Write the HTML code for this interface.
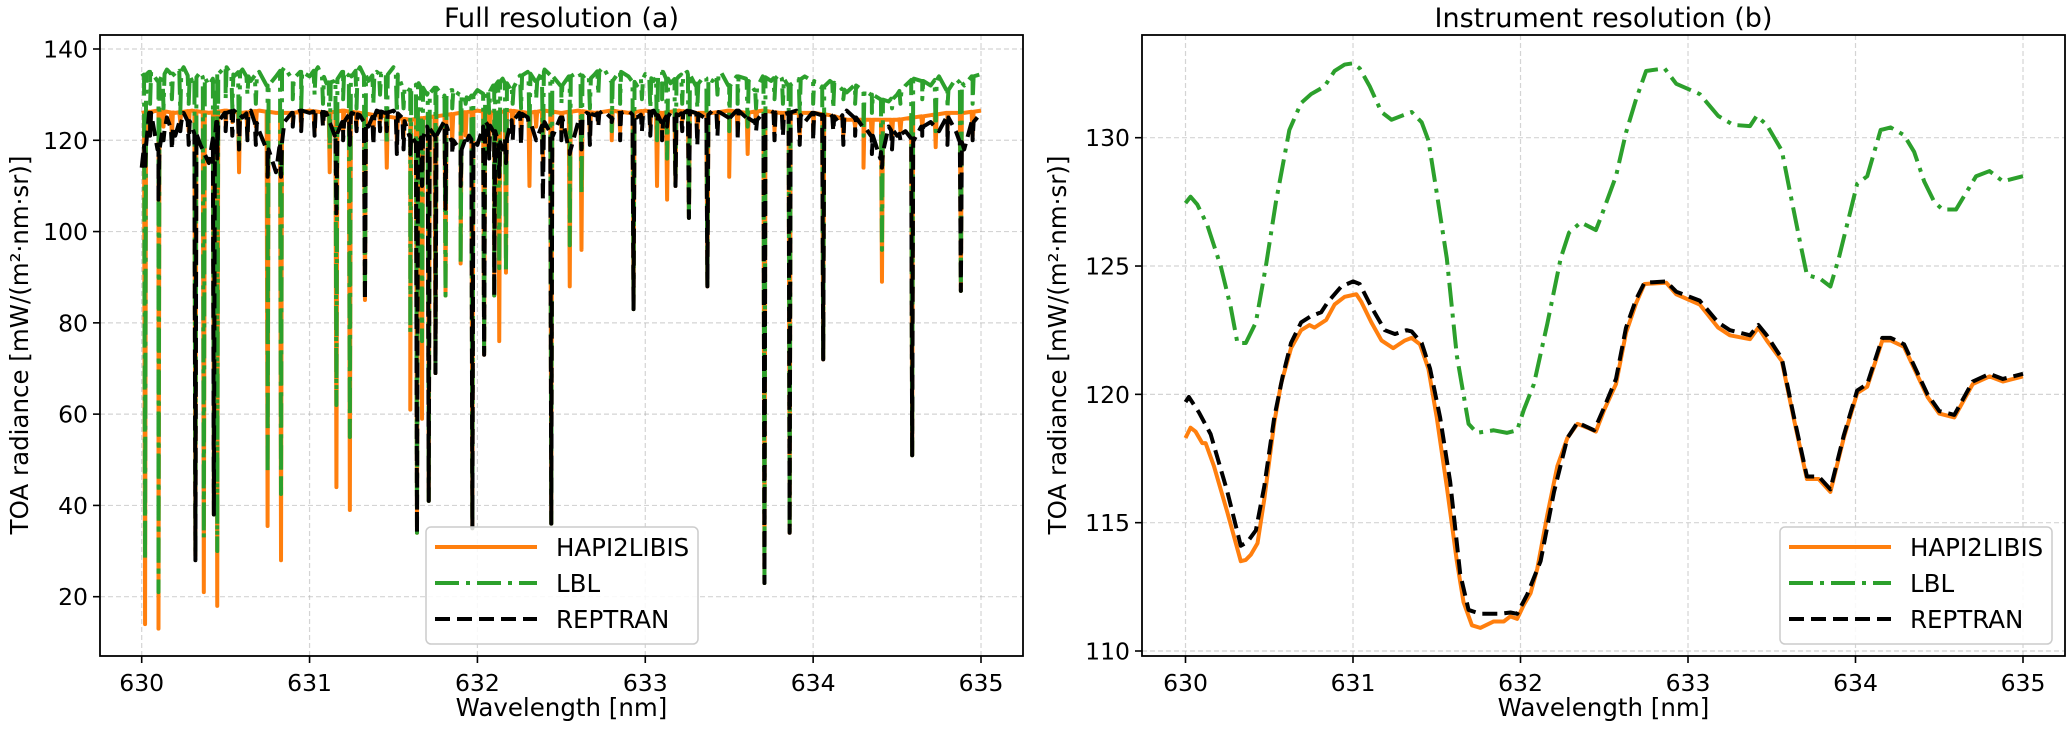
<!DOCTYPE html>
<html><head><meta charset="utf-8"><style>
body{margin:0;background:#fff}
svg text{font-family:"DejaVu Sans","Liberation Sans",sans-serif;fill:#000}
</style></head><body>
<svg id="fig" width="2067" height="729" viewBox="0 0 2067 729" xmlns="http://www.w3.org/2000/svg">
<defs>
<clipPath id="clipL"><rect x="100" y="35" width="923" height="621"/></clipPath>
<clipPath id="clipR"><rect x="1142" y="35" width="923" height="621"/></clipPath>
</defs>
<g id="panelL"></g>
<g id="panelR"></g>
</svg>
<script>
// ---- Left panel data (full resolution) ----
const baseStep = 0.05;
const lblBaseL = [134,135,133,135.5,134,136,133,135,132,134.5,136,134,135.5,133,135,132,134,136,133.5,135,
134,136,132.5,133,135,134,136,133,135,134,136,132,131,132.5,130,131.5,129.5,131,130,129,
131,130,132,133.5,131,134,135,133,135.5,134,132,134,135,133,134.5,136,133,135,134,132,
134.5,133,135,132.5,134,135,132,134,133,135,132,134,133.5,131,134,133,134.5,132,133,134,
133,131.5,133,132,130.5,132,131,130,129,128.5,130,132,133.5,133,132,134,131,133.5,132,134,134.5];
const reptranBaseL = [114,126,118,125,121,126,123,119,115,124,126,126.5,125,126.5,122,118,113,124,126,126.5,
126,126.5,126,121,124,126,125.5,123,126.5,126,126.5,125,121,119,123,121,124,120,118,121,
119,124,122,118,124,126,125,120,124,121,125,118,124,126,125.5,126.5,125,126,126.5,125,
126,126.5,124,126,125.5,126.5,126,125,126.5,126,125,126.5,125,124,126,126.5,125.5,126,126.5,124,
126,125.5,126,124,126.5,125,123,121,116,123,121,122,120,123,124,122,125,122,118,124,126];
const hapiBaseStep = 0.1;
const hapiBaseL = [126,126.5,126,126.5,126,126.5,126,126.5,126,126,126.5,126,126.5,126,125.5,125,124.5,125,125.5,126,
126.5,126,126.5,126,126.5,126,126.5,126,126.5,126,126.5,126,126.5,126,126,126.5,126,126.5,126,126,
126,125.5,124.5,124.5,124.5,124.5,125,125.5,126,126,126.5];
const lineNm = [630.02,630.10,630.32,630.37,630.43,630.45,630.58,630.75,630.83,631.12,631.16,631.24,631.33,631.46,631.60,631.64,631.67,631.71,631.75,631.81,631.90,631.97,632.04,632.10,632.13,632.17,632.31,632.39,632.44,632.55,632.62,632.80,632.93,633.07,633.13,633.18,633.26,633.37,633.50,633.61,633.71,633.86,634.06,634.30,634.41,634.59,634.73,634.88];
const hapiMin = [14,13,29,21,38,18,113,35.5,28,113,44,39,85,114,61,34,59,41,69,86,93,35,73,86,76,91,110,115,36,88,96,120,83,110,107,110,103,88,112,117,23,34,72,114,89,51,118.5,87];
const lblMin = [28,21,30,33,38,30,118,47,42.5,118,62,55,85,119,78,34,76,41,69,86,93,35,73,86,92,91,122,118,36,97,108,122,83,120,116,110,103,88,122,123,23,34,72,121,96,51,122,87];
const reptranMin = [114,107,28,118,38,116,118,112,112,125,104,119,85,122,117,34,110,41,69,105,110,35,73,86,112,115,124,107,36,117,118,124,83,124,123,110,103,88,124,124,23,34,72,123,114,51,123,87];
// weak lines (texture)
const weakNm = [630.05,630.13,630.18,630.23,630.28,630.50,630.54,630.63,630.68,630.90,630.95,631.03,631.08,631.20,631.28,631.38,631.42,631.52,631.56,631.85,631.93,632.07,632.21,632.26,632.35,632.50,632.67,632.72,632.85,632.98,633.03,633.10,633.22,633.31,633.43,633.55,633.66,633.77,633.82,633.92,634.00,634.12,634.18,634.25,634.35,634.47,634.52,634.65,634.80,634.95];
const weakLbl = [128,127,129,126,128,129,127,130,128,129,127,130,128,129,127,128,130,126,127,127,128,126,128,127,129,128,127,130,128,129,127,129,128,127,130,128,127,129,128,126,128,127,129,128,126,127,128,129,127,128];
const weakHapi = [122,123,121,124,122,123,124,121,123,124,123,122,124,122,123,121,124,120,121,120,121,119,122,121,123,122,121,124,122,124,123,122,124,121,123,122,124,122,123,121,122,124,121,123,120,121,122,123,122,121];
const weakReptran = [121,120,118,122,119,122,121,120,119,123,122,121,123,120,122,119,122,117,118,117,119,116,120,119,121,120,119,123,120,122,121,120,122,119,121,120,122,120,121,119,120,122,119,121,117,118,120,121,119,120];
const yTicksL = [20,40,60,80,100,120,140];
const xTicks = [630,631,632,633,634,635];

// ---- Right panel data (instrument resolution) ----
const lblXR = [630.0,630.03,630.07,630.13,630.21,630.27,630.31,630.36,630.42,630.48,630.54,630.62,630.69,630.75,630.83,630.89,630.95,631.0,631.04,631.1,631.17,631.23,631.31,631.35,631.41,631.45,631.5,631.56,631.62,631.69,631.74,631.84,631.92,631.98,632.02,632.08,632.16,632.24,632.29,632.36,632.45,632.48,632.57,632.63,632.69,632.75,632.86,632.93,633.07,633.18,633.27,633.37,633.41,633.47,633.56,633.61,633.67,633.71,633.79,633.85,633.9,634.01,634.07,634.15,634.21,634.29,634.35,634.41,634.47,634.52,634.6,634.72,634.8,634.88,635.0];
const lblYR = [127.45,127.7,127.4,126.6,125.0,123.4,122.0,122.0,122.8,125.0,127.5,130.3,131.35,131.7,132.0,132.6,132.85,132.9,132.7,132.0,131.0,130.7,130.9,131.0,130.6,129.9,127.85,125.3,121.5,118.85,118.5,118.6,118.5,118.6,119.4,120.4,122.75,125.3,126.3,126.7,126.4,126.9,128.5,130.2,131.5,132.6,132.7,132.1,131.7,130.85,130.5,130.45,130.85,130.5,129.5,127.85,125.9,124.65,124.5,124.2,125.3,128.2,128.5,130.3,130.4,130.1,129.45,128.3,127.5,127.2,127.2,128.5,128.7,128.3,128.5];
const hapiXR = [630.0,630.03,630.06,630.1,630.12,630.17,630.25,630.33,630.36,630.39,630.43,630.47,630.53,630.57,630.63,630.69,630.74,630.77,630.84,630.89,630.95,631.02,631.05,631.11,631.17,631.24,631.31,631.35,631.4,631.45,631.5,631.56,631.62,631.66,631.71,631.76,631.84,631.9,631.94,631.98,632.02,632.06,632.1,632.16,632.22,632.28,632.34,632.4,632.45,632.5,632.57,632.63,632.69,632.74,632.87,632.93,633.07,633.18,633.25,633.37,633.42,633.47,633.56,633.63,633.71,633.78,633.85,633.93,634.01,634.07,634.16,634.21,634.29,634.43,634.5,634.59,634.7,634.8,634.88,635.0];
const hapiYR = [118.3,118.7,118.55,118.1,118.1,117.2,115.4,113.5,113.55,113.75,114.2,115.9,118.9,120.4,121.8,122.5,122.7,122.6,122.9,123.5,123.8,123.9,123.6,122.8,122.1,121.8,122.1,122.2,121.95,121.0,119.1,116.4,113.5,111.9,111.0,110.9,111.15,111.15,111.35,111.25,111.8,112.25,113.2,115.3,117.2,118.3,118.85,118.7,118.55,119.4,120.4,122.4,123.55,124.3,124.35,123.9,123.5,122.6,122.3,122.15,122.6,122.1,121.3,119.1,116.7,116.7,116.2,118.3,120.05,120.3,122.1,122.1,121.85,119.9,119.25,119.1,120.4,120.7,120.5,120.7];
const reptranXR = [630.0,630.02,630.08,630.15,630.25,630.33,630.37,630.42,630.47,630.53,630.58,630.63,630.69,630.75,630.81,630.85,630.93,631.0,631.04,631.11,631.19,631.25,631.32,631.35,631.41,631.46,631.52,631.58,631.64,631.69,631.76,631.88,631.94,631.98,632.04,632.12,632.2,632.28,632.34,632.44,632.5,632.57,632.63,632.69,632.74,632.87,632.93,633.07,633.18,633.25,633.37,633.42,633.47,633.56,633.63,633.71,633.78,633.85,633.93,634.01,634.07,634.16,634.21,634.29,634.43,634.5,634.59,634.7,634.8,634.88,635.0];
const reptranYR = [119.7,119.9,119.3,118.45,116.2,114.1,114.25,114.7,116.4,119.1,120.7,122.0,122.8,123.05,123.2,123.6,124.2,124.4,124.3,123.4,122.5,122.35,122.5,122.45,122.0,121.0,119.1,116.6,113.0,111.6,111.45,111.45,111.5,111.45,112.2,113.5,116.2,118.3,118.9,118.6,119.5,120.6,122.6,123.7,124.35,124.4,124.0,123.65,122.8,122.5,122.3,122.7,122.3,121.4,119.2,116.8,116.8,116.3,118.4,120.15,120.4,122.2,122.2,121.95,120.0,119.35,119.2,120.5,120.8,120.6,120.8];
const yTicksR = [110,115,120,125,130];

const NS = "http://www.w3.org/2000/svg";
function mk(tag, attrs, parent){const e=document.createElementNS(NS,tag);for(const k in attrs)e.setAttribute(k,attrs[k]);parent.appendChild(e);return e;}

function makeAxes(g, cfg){
  const xs = v => cfg.x0 + (v-630)*(cfg.x5-cfg.x0)/5;
  const ys = v => cfg.yA + (v-cfg.vA)*(cfg.yB-cfg.yA)/(cfg.vB-cfg.vA);
  const grid = mk('g',{},g);
  
  
  xTicks.forEach(t=>{
    const l=mk('line',{x1:xs(t),x2:xs(t),y1:35,y2:656,stroke:'#b0b0b0','stroke-opacity':0.55,'stroke-width':1.2,'stroke-dasharray':'5,3'},grid);
    
    
  });
  cfg.yt.forEach(t=>{
    const l=mk('line',{x1:cfg.L,x2:cfg.R,y1:ys(t),y2:ys(t),stroke:'#b0b0b0','stroke-opacity':0.55,'stroke-width':1.2,'stroke-dasharray':'5,3'},grid);
    
    
  });
  return {xs,ys};
}
function frame(g,cfg,xs,ys){
  const f=mk('rect',{x:cfg.L,y:35,width:cfg.R-cfg.L,height:621,fill:'none',stroke:'#000','stroke-width':1.8},g);
  
  
  xTicks.forEach(t=>{
    const tk=mk('line',{x1:xs(t),x2:xs(t),y1:656,y2:663,stroke:'#000','stroke-width':1.6},g);
    
    
    const tx=mk('text',{x:xs(t),y:691,'text-anchor':'middle','font-size':23.5},g);
    tx.textContent=t;
    
    
  });
  cfg.yt.forEach(t=>{
    const tk=mk('line',{x1:cfg.L-7,x2:cfg.L,y1:ys(t),y2:ys(t),stroke:'#000','stroke-width':1.6},g);
    
    
    const tx=mk('text',{x:cfg.L-12,y:ys(t)+8.5,'text-anchor':'end','font-size':23.5},g);
    tx.textContent=t;
    
    
  });
  const cx=(cfg.L+cfg.R)/2;
  const ti=mk('text',{x:cx,y:27,'text-anchor':'middle','font-size':27},g);
  ti.textContent=cfg.title;
  
  
  const xl=mk('text',{x:cx,y:716,'text-anchor':'middle','font-size':24.5},g);
  xl.textContent='Wavelength [nm]';
  
  
  const yl=mk('text',{x:0,y:0,'text-anchor':'middle','font-size':24.5,transform:`translate(${cfg.ylx},345) rotate(-90)`},g);
  yl.textContent='TOA radiance [mW/(m\u00B2\u00B7nm\u00B7sr)]';
  
  
  const lg=mk('g',{},g);
  
  
  const bx=cfg.legX;
  mk('rect',{x:bx,y:527,width:272,height:117,rx:5,fill:'#fff','fill-opacity':0.85,stroke:'#cccccc','stroke-width':1.5},lg);
  const ents=[['HAPI2LIBIS','#ff7f0e',''],['LBL','#2ca02c','24,7,4,7'],['REPTRAN','#000','15,7']];
  ents.forEach((e,i)=>{
    const y=547+i*36;
    const eg=mk('g',{},lg);
    
    
    const a={x1:bx+9,x2:bx+111,y1:y,y2:y,stroke:e[1],'stroke-width':4};
    if(e[2])a['stroke-dasharray']=e[2];
    mk('line',a,eg);
    const t=mk('text',{x:bx+130,y:y+9,'font-size':24.5},eg);
    t.textContent=e[0];
  });
}
function pathFrom(pts,xs,ys){return pts.map((p,i)=>(i?'L':'M')+xs(p[0]).toFixed(2)+','+ys(p[1]).toFixed(2)).join('');}
function interp(arr,step,nm){const f=(nm-630)/step;const i=Math.max(0,Math.min(arr.length-2,Math.floor(f)));const t=f-i;return arr[i]*(1-t)+arr[i+1]*t;}
function fullSeries(base,step,mins,wmins){
  const pts=base.map((v,i)=>[630+i*step,v]);
  const add=(nms,ms)=>nms.forEach((nm,i)=>{
    const b=interp(base,step,nm);
    if(ms[i]<b){pts.push([nm-0.006,b]);pts.push([nm,ms[i]]);pts.push([nm+0.006,b]);}
  });
  add(lineNm,mins);
  add(weakNm,wmins);
  pts.sort((a,b)=>a[0]-b[0]);
  return pts;
}

const gL=document.getElementById('panelL');
const cfgL={L:100,R:1023,x0:141.7,x5:981,yA:49,vA:140,yB:596.7,vB:20,yt:yTicksL,title:'Full resolution (a)',ylx:28,legX:426};
const axL=makeAxes(gL,cfgL);
const sL=mk('g',{'clip-path':'url(#clipL)'},gL);
const pHL=mk('path',{d:pathFrom(fullSeries(hapiBaseL,hapiBaseStep,hapiMin,weakHapi),axL.xs,axL.ys),fill:'none',stroke:'#ff7f0e','stroke-width':4,'stroke-linejoin':'round'},sL);


const pGL=mk('path',{d:pathFrom(fullSeries(lblBaseL,baseStep,lblMin,weakLbl),axL.xs,axL.ys),fill:'none',stroke:'#2ca02c','stroke-width':4,'stroke-dasharray':'24,7,4,7','stroke-linejoin':'round'},sL);


const pBL=mk('path',{d:pathFrom(fullSeries(reptranBaseL,baseStep,reptranMin,weakReptran),axL.xs,axL.ys),fill:'none',stroke:'#000','stroke-width':4,'stroke-dasharray':'15,7','stroke-linejoin':'round'},sL);


frame(gL,cfgL,axL.xs,axL.ys);

const gR=document.getElementById('panelR');
const cfgR={L:1142,R:2065,x0:1185.5,x5:2023,yA:137.7,vA:130,yB:651,vB:110,yt:yTicksR,title:'Instrument resolution (b)',ylx:1066,legX:1780};
const axR=makeAxes(gR,cfgR);
const sR=mk('g',{'clip-path':'url(#clipR)'},gR);
const zip=(a,b)=>a.map((v,i)=>[v,b[i]]);
const pHR=mk('path',{d:pathFrom(zip(hapiXR,hapiYR),axR.xs,axR.ys),fill:'none',stroke:'#ff7f0e','stroke-width':4,'stroke-linejoin':'round'},sR);


const pGR=mk('path',{d:pathFrom(zip(lblXR,lblYR),axR.xs,axR.ys),fill:'none',stroke:'#2ca02c','stroke-width':4,'stroke-dasharray':'24,7,4,7','stroke-linejoin':'round'},sR);


const pBR=mk('path',{d:pathFrom(zip(reptranXR,reptranYR),axR.xs,axR.ys),fill:'none',stroke:'#000','stroke-width':4,'stroke-dasharray':'15,7','stroke-linejoin':'round'},sR);


frame(gR,cfgR,axR.xs,axR.ys);
</script>
</body></html>
